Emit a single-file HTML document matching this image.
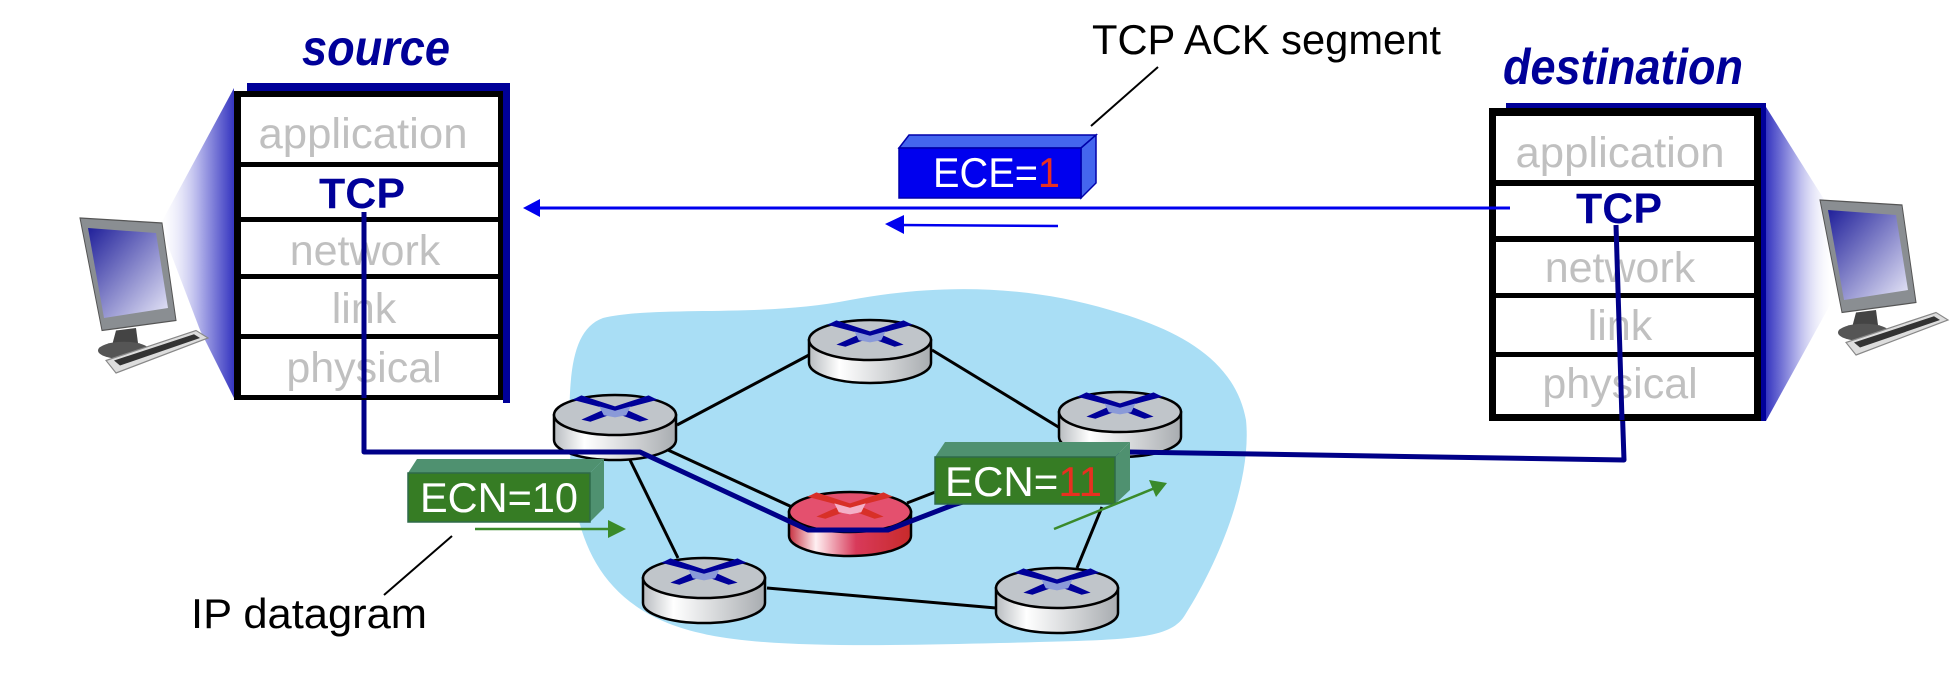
<!DOCTYPE html>
<html><head><meta charset="utf-8"><style>
html,body{margin:0;padding:0;background:#fff;}
svg{display:block;}
text{font-family:"Liberation Sans",Arial,sans-serif;}
</style></head><body>
<svg width="1958" height="674" viewBox="0 0 1958 674" xmlns="http://www.w3.org/2000/svg">
<defs>
<linearGradient id="wl" x1="0" y1="0" x2="1" y2="0">
<stop offset="0" stop-color="#ffffff" stop-opacity="0.2"/><stop offset="0.5" stop-color="#b8b8ec"/><stop offset="1" stop-color="#3535c0"/></linearGradient>
<linearGradient id="wr" x1="0" y1="0" x2="1" y2="0">
<stop offset="0" stop-color="#3535c0"/><stop offset="0.5" stop-color="#b8b8ec"/><stop offset="1" stop-color="#ffffff" stop-opacity="0.2"/></linearGradient>
<linearGradient id="side" x1="0" y1="0" x2="1" y2="0">
<stop offset="0" stop-color="#b8bcc0"/><stop offset="0.25" stop-color="#ffffff"/><stop offset="1" stop-color="#a8acb0"/></linearGradient>
<linearGradient id="rside" x1="0" y1="0" x2="1" y2="0">
<stop offset="0" stop-color="#c83040"/><stop offset="0.22" stop-color="#fff0f2"/><stop offset="0.55" stop-color="#d83a5a"/><stop offset="1" stop-color="#c82a2a"/></linearGradient>
<linearGradient id="scr" x1="0" y1="0" x2="1" y2="1">
<stop offset="0" stop-color="#20209a"/><stop offset="1" stop-color="#e8e8f8"/></linearGradient>
<g id="xr" transform="translate(0,-2) scale(1.12,1.1)">
<path d="M-38,-12 L-8,-4 L-30,6 L-22,8 L0,0 L22,8 L30,6 L8,-4 L38,-12 L30,-16 L0,-6 L-30,-16 Z" fill="#000099"/>
<path d="M-14,-6 L0,-2 L14,-6 L10,2 L0,4 L-10,2 Z" fill="#8a9ad8"/>
</g>
<g id="comp">
<path d="M4,0 L86,4 L100,82 L26,90 Z" fill="#8a8e92" stroke="#555" stroke-width="1"/>
<path d="M12,8 L80,12 L92,72 L28,80 Z" fill="url(#scr)"/>
<path d="M40,90 L60,88 L62,100 L36,102 Z" fill="#444"/>
<ellipse cx="48" cy="106" rx="26" ry="7" fill="#555"/>
<path d="M30,114 L120,90 L132,96 L40,124 Z" fill="#ddd" stroke="#888"/>
<path d="M38,114 L118,93 L124,96 L44,118 Z" fill="#333"/>
</g>
</defs>

<!-- cloud -->
<path d="M603,318 C660,305 760,318 850,300 C930,285 1020,283 1110,310 C1180,330 1235,360 1246,420 C1252,480 1220,560 1185,615 C1170,640 1130,640 1000,643 C880,646 760,648 700,633 C600,610 572,540 570,450 C568,380 570,330 603,318 Z" fill="#a9def5"/>

<!-- links -->
<g stroke="#000" stroke-width="3" fill="none">
<line x1="677" y1="425" x2="809" y2="355"/>
<line x1="932" y1="350" x2="1060" y2="428"/>
<line x1="668" y1="450" x2="792" y2="507"/>
<line x1="630" y1="460" x2="678" y2="558"/>
<line x1="907" y1="503" x2="1070" y2="440"/>
<line x1="767" y1="588" x2="996" y2="608"/>
<line x1="1102" y1="507" x2="1077" y2="568"/>
</g>

<!-- routers -->
<g stroke="#000" stroke-width="2.5">
<g transform="translate(615,415)"><path d="M-61,0 L-61,25 A61,20 0 0 0 61,25 L61,0 Z" fill="url(#side)"/><ellipse cx="0" cy="0" rx="61" ry="20" fill="#c0c5ca"/><use href="#xr" stroke="none"/></g>
<g transform="translate(870,340)"><path d="M-61,0 L-61,23 A61,20 0 0 0 61,23 L61,0 Z" fill="url(#side)"/><ellipse cx="0" cy="0" rx="61" ry="20" fill="#c0c5ca"/><use href="#xr" stroke="none"/></g>
<g transform="translate(704,578)"><path d="M-61,0 L-61,25 A61,20 0 0 0 61,25 L61,0 Z" fill="url(#side)"/><ellipse cx="0" cy="0" rx="61" ry="20" fill="#c0c5ca"/><use href="#xr" stroke="none"/></g>
<g transform="translate(1120,412)"><path d="M-61,0 L-61,25 A61,20 0 0 0 61,25 L61,0 Z" fill="url(#side)"/><ellipse cx="0" cy="0" rx="61" ry="20" fill="#c0c5ca"/><use href="#xr" stroke="none"/></g>
<g transform="translate(1057,588)"><path d="M-61,0 L-61,25 A61,20 0 0 0 61,25 L61,0 Z" fill="url(#side)"/><ellipse cx="0" cy="0" rx="61" ry="20" fill="#c0c5ca"/><use href="#xr" stroke="none"/></g>
<g transform="translate(850,512)"><path d="M-61,0 L-61,24 A61,20 0 0 0 61,24 L61,0 Z" fill="url(#rside)"/><ellipse cx="0" cy="0" rx="61" ry="20" fill="#e4506e"/>
<g stroke="none" transform="translate(0,-2) scale(1.12,1.1)"><path d="M-38,-12 L-8,-4 L-30,6 L-22,8 L0,0 L22,8 L30,6 L8,-4 L38,-12 L30,-16 L0,-6 L-30,-16 Z" fill="#d83028"/><path d="M-14,-6 L0,-2 L14,-6 L10,2 L0,4 L-10,2 Z" fill="#f4b0c8"/></g></g>
</g>

<!-- navy path -->
<polyline points="364,212 364,452 640,452 808,530 888,530 953,505 1130,452 1624,460 1616,225" fill="none" stroke="#000088" stroke-width="5" stroke-linejoin="round"/>

<!-- wedges -->
<polygon points="234,88 234,398 200,330 160,225" fill="url(#wl)"/>
<polygon points="1766,107 1766,421 1830,305 1832,212" fill="url(#wr)"/>

<!-- computers -->
<g transform="translate(76,218) scale(1.0,1.25)"><use href="#comp"/></g>
<g transform="translate(1816,200) scale(1.0,1.25)"><use href="#comp"/></g>

<!-- source stack -->
<text x="376" y="65" text-anchor="middle" font-size="50" font-weight="bold" font-style="italic" fill="#000099" textLength="148" lengthAdjust="spacingAndGlyphs">source</text>
<rect x="247" y="83" width="263" height="9" fill="#000099"/>
<rect x="503" y="83" width="7" height="320" fill="#000099"/>
<rect x="234" y="91" width="269" height="309" fill="#000"/>
<rect x="241" y="97" width="257" height="65" fill="#fff"/>
<rect x="241" y="167" width="257" height="50" fill="#fff"/>
<rect x="241" y="222" width="257" height="52" fill="#fff"/>
<rect x="241" y="279" width="257" height="55" fill="#fff"/>
<rect x="241" y="339" width="257" height="56" fill="#fff"/>
<g font-size="43" fill="#c0c0c0" text-anchor="middle">
<text x="363" y="148" textLength="209" lengthAdjust="spacingAndGlyphs">application</text>
<text x="365" y="265">network</text>
<text x="364" y="323">link</text>
<text x="364" y="382">physical</text>
</g>
<text x="362" y="208" text-anchor="middle" font-size="43" font-weight="bold" fill="#000099">TCP</text>
<line x1="364" y1="212" x2="364" y2="398" stroke="#000088" stroke-width="5"/>

<!-- destination stack -->
<text x="1623" y="84" text-anchor="middle" font-size="50" font-weight="bold" font-style="italic" fill="#000099" textLength="240" lengthAdjust="spacingAndGlyphs">destination</text>
<rect x="1506" y="103" width="260" height="5" fill="#000099"/>
<rect x="1761" y="103" width="5" height="318" fill="#000099"/>
<rect x="1489" y="108" width="272" height="313" fill="#000"/>
<rect x="1496" y="116" width="258" height="64" fill="#fff"/>
<rect x="1496" y="186" width="258" height="50" fill="#fff"/>
<rect x="1496" y="242" width="258" height="51" fill="#fff"/>
<rect x="1496" y="298" width="258" height="54" fill="#fff"/>
<rect x="1496" y="357" width="258" height="57" fill="#fff"/>
<g font-size="43" fill="#c0c0c0" text-anchor="middle">
<text x="1620" y="167" textLength="209" lengthAdjust="spacingAndGlyphs">application</text>
<text x="1620" y="282">network</text>
<text x="1620" y="340">link</text>
<text x="1620" y="398">physical</text>
</g>
<text x="1619" y="223" text-anchor="middle" font-size="43" font-weight="bold" fill="#000099">TCP</text>
<line x1="1616" y1="225" x2="1622" y2="420" stroke="#000088" stroke-width="5"/>

<!-- ACK arrow -->
<line x1="538" y1="208" x2="1510" y2="208" stroke="#0000ee" stroke-width="3"/>
<polygon points="523,208 540,199 540,217" fill="#0000ee"/>
<line x1="898" y1="225" x2="1058" y2="226" stroke="#0000ee" stroke-width="2.5"/>
<polygon points="885,224 904,215 904,234" fill="#0000ee"/>

<!-- ECE box -->
<polygon points="899,148 909,135 1096,135 1081,148" fill="#4466ee" stroke="#0000aa" stroke-width="1.5"/>
<polygon points="1081,148 1096,135 1096,183 1081,198" fill="#4466ee" stroke="#0000aa" stroke-width="1.5"/>
<rect x="899" y="148" width="182" height="50" fill="#0000ee" stroke="#0000aa" stroke-width="1.5"/>
<text x="933" y="187" font-size="42" fill="#fff" textLength="127" lengthAdjust="spacingAndGlyphs">ECE=<tspan fill="#e83020">1</tspan></text>
<line x1="1158" y1="67" x2="1091" y2="126" stroke="#000" stroke-width="2"/>
<text x="1092" y="54" font-size="42" fill="#000" textLength="349" lengthAdjust="spacingAndGlyphs">TCP ACK segment</text>

<!-- ECN=10 -->
<polygon points="408,473 417,459 604,459 590,473" fill="#4f9170"/>
<polygon points="590,473 604,459 604,508 590,522" fill="#4f9170"/>
<rect x="408" y="473" width="182" height="49" fill="#367c24" stroke="#2f6a4a" stroke-width="1.5"/>
<text x="420" y="512" font-size="42" fill="#fff" textLength="158" lengthAdjust="spacingAndGlyphs">ECN=10</text>
<line x1="475" y1="529" x2="612" y2="529" stroke="#3a8a2a" stroke-width="2.5"/>
<polygon points="626,529 608,520 608,538" fill="#3a8a2a"/>
<line x1="452" y1="536" x2="384" y2="595" stroke="#000" stroke-width="2"/>
<text x="191" y="628" font-size="42" fill="#000" textLength="236" lengthAdjust="spacingAndGlyphs">IP datagram</text>

<!-- ECN=11 -->
<polygon points="935,457 945,442 1130,442 1115,457" fill="#4f9170"/>
<polygon points="1115,457 1130,442 1130,490 1115,504" fill="#4f9170"/>
<rect x="935" y="457" width="180" height="47" fill="#367c24" stroke="#2f6a4a" stroke-width="1.5"/>
<text x="945" y="496" font-size="42" fill="#fff" textLength="157" lengthAdjust="spacingAndGlyphs">ECN=<tspan fill="#e83020">11</tspan></text>
<line x1="1054" y1="529" x2="1155" y2="488" stroke="#3a8a2a" stroke-width="2.5"/>
<polygon points="1167,483 1149,480 1156,497" fill="#3a8a2a"/>
</svg>
</body></html>
